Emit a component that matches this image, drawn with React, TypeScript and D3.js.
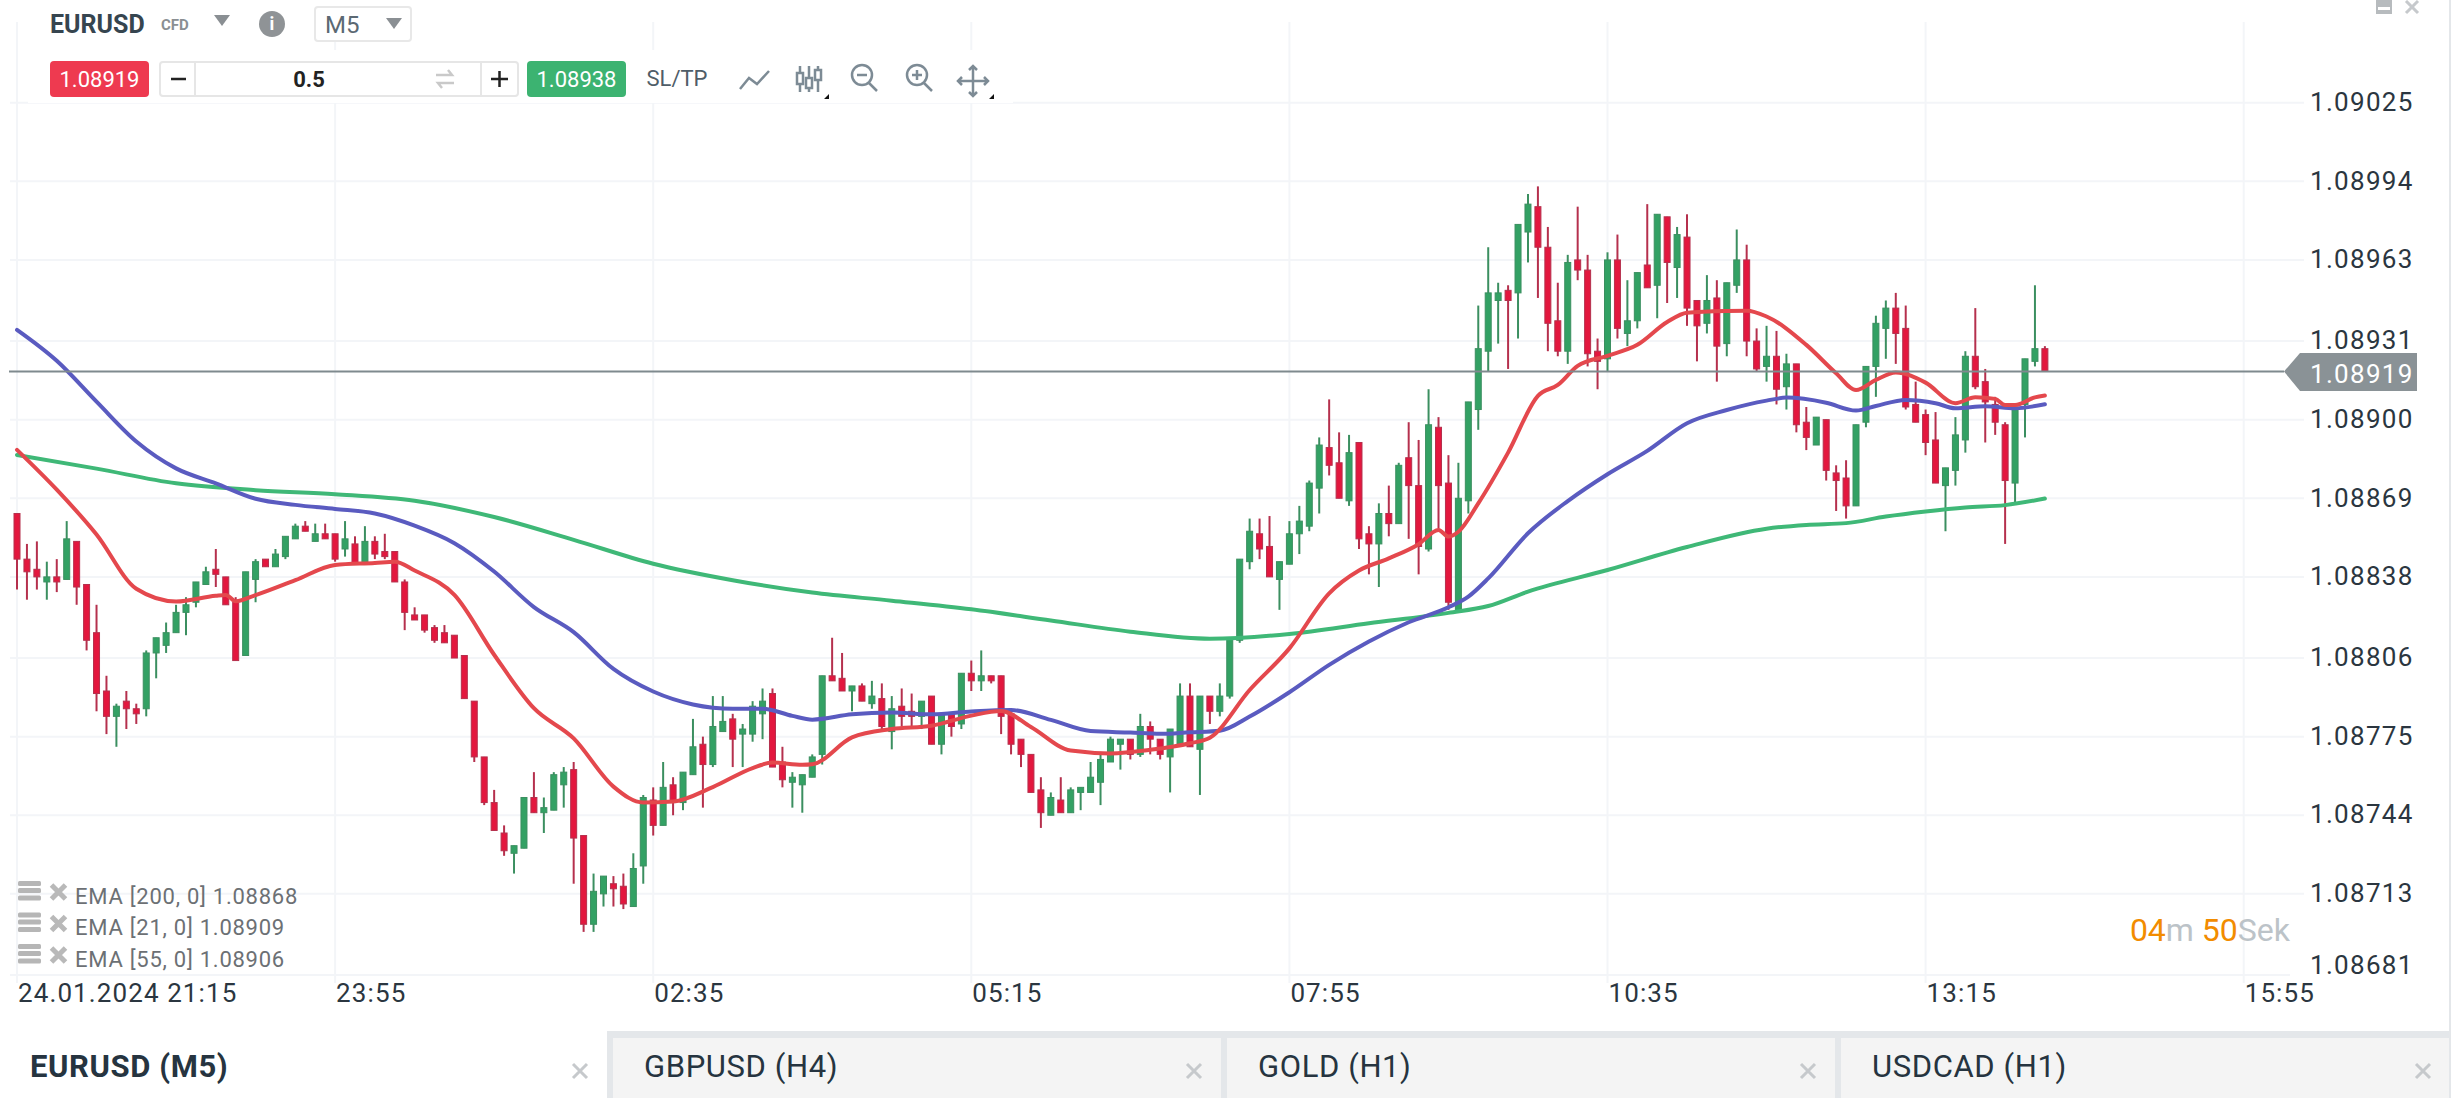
import React from "react";
import * as d3 from "d3";

const W = 2451, H = 1098;
const FONT = "Roboto, sans-serif";

// Prices are given as fifth-decimal units: 8919 means 1.08919.
const directions =
  "RRRGRGRRRRGRRGGGGGGGRRRGGRGGGRGRRGRGRRRRR" +
  "RRRRRRRRRGGRGGGRRGGRRGGRGRGGRGGRGGGRRGGG" +
  "GRRGRGRGRRGRGRGRGRRRRRRGRGGGGGGRGRRGGRGRG" +
  "GGGRRGGGGGRRGRRGRGRRGRRGG" +
  "GGGRGGRRRGRRRGRGGRGRGRRGRGGRRGRGRRG" +
  "RRRGGGGRRRRRGGGRRRRGGGR";

const highs = [
  8863,8851,8852,8844,8845,8860,8852,8835,8827,8799,8788,8793,8788,8809,8814,8820,8827,8830,8836,8842,8849,8838,8830,8840,8845,8845,8849,8854,8859,8860,8859,8859,8855,8860,8854,8858,8854,8855,8848,8837,8826,
  8823,8819,8819,8815,8807,8789,8767,8754,8740,8732,8751,8761,8751,8761,8763,8765,8736,8721,8720,8720,8721,8729,8752,8755,8765,8759,8761,8782,8775,8791,8791,8784,8780,8789,8794,8794,8771,8761,8760,8768,
  8799,8814,8808,8795,8796,8797,8796,8791,8794,8792,8789,8791,8784,8784,8800,8805,8809,8799,8799,8785,8774,8768,8759,8753,8759,8755,8755,8765,8769,8775,8774,8774,8784,8781,8774,8778,8796,8796,8791,8791,8796,
  8814,8845,8861,8861,8862,8844,8860,8866,8876,8893,8908,8895,8894,8891,8858,8867,8874,8883,8899,8892,8912,8901,8886,8883,8907,
  8945,8968,8954,8953,8977,8989,8992,8976,8954,8965,8984,8965,8932,8966,8973,8955,8958,8985,8981,8980,8976,8981,8947,8957,8955,8954,8975,8969,8936,8937,8935,8926,8922,8905,8901,
  8900,8882,8884,8898,8921,8941,8947,8950,8945,8915,8904,8903,8881,8901,8927,8944,8920,8909,8899,8904,8924,8953,8929,
];
const lows = [
  8833,8829,8833,8829,8832,8837,8827,8809,8785,8776,8771,8778,8780,8783,8798,8808,8816,8815,8826,8835,8834,8827,8805,8807,8828,8842,8842,8845,8853,8856,8852,8853,8844,8846,8843,8843,8845,8845,8836,8817,8821,
  8816,8812,8812,8806,8790,8765,8748,8738,8728,8721,8731,8745,8737,8746,8747,8717,8698,8698,8708,8708,8707,8708,8717,8736,8740,8744,8746,8760,8747,8763,8777,8763,8763,8773,8774,8763,8755,8747,8745,8759,
  8764,8797,8793,8785,8789,8786,8778,8770,8779,8779,8778,8772,8768,8775,8778,8793,8793,8796,8776,8768,8763,8753,8739,8744,8745,8745,8746,8753,8748,8765,8762,8766,8767,8768,8766,8753,8772,8771,8752,8780,8783,
  8790,8812,8841,8845,8838,8825,8843,8847,8856,8863,8878,8869,8866,8849,8839,8834,8854,8859,8853,8839,8848,8857,8825,8824,8863,
  8896,8919,8930,8920,8932,8962,8948,8927,8925,8922,8955,8921,8912,8919,8932,8929,8936,8952,8940,8946,8948,8937,8923,8934,8915,8925,8950,8925,8919,8915,8906,8904,8895,8888,8890,
  8876,8864,8861,8866,8897,8909,8924,8922,8904,8899,8886,8875,8856,8874,8887,8912,8891,8894,8851,8867,8893,8921,8919,
];
const bodyHighs = [
  8863,8845,8841,8838,8838,8853,8852,8835,8816,8793,8787,8789,8786,8808,8814,8816,8824,8827,8836,8840,8841,8838,8828,8840,8844,8845,8847,8854,8858,8858,8855,8855,8855,8853,8851,8852,8852,8848,8848,8836,8823,
  8823,8818,8816,8815,8807,8789,8767,8749,8737,8732,8751,8751,8747,8760,8761,8762,8736,8714,8720,8717,8716,8723,8751,8750,8755,8756,8761,8771,8772,8779,8781,8782,8778,8787,8789,8792,8765,8759,8760,8767,
  8799,8799,8798,8795,8795,8791,8790,8786,8787,8785,8789,8791,8784,8784,8800,8800,8799,8799,8799,8784,8774,8768,8754,8751,8750,8754,8755,8759,8766,8774,8774,8774,8779,8779,8774,8778,8791,8791,8791,8791,8791,
  8814,8845,8856,8855,8850,8844,8855,8860,8875,8890,8889,8883,8887,8891,8855,8863,8863,8882,8885,8874,8898,8897,8875,8869,8907,
  8928,8950,8950,8951,8977,8985,8984,8968,8939,8962,8963,8959,8927,8963,8963,8939,8958,8961,8981,8980,8973,8972,8947,8947,8948,8954,8963,8963,8931,8925,8925,8922,8922,8899,8901,
  8900,8879,8877,8898,8921,8938,8944,8944,8936,8906,8902,8892,8881,8894,8925,8925,8915,8906,8898,8904,8924,8928,8928,
];
const bodyLows = [
  8845,8840,8838,8836,8836,8837,8834,8813,8792,8783,8783,8786,8784,8786,8808,8811,8816,8824,8828,8835,8839,8827,8805,8807,8837,8842,8842,8846,8853,8856,8852,8853,8845,8849,8843,8843,8847,8846,8836,8824,8821,
  8817,8813,8812,8806,8790,8767,8749,8738,8730,8729,8731,8745,8745,8746,8756,8735,8701,8701,8713,8715,8709,8708,8724,8740,8740,8749,8749,8760,8764,8764,8777,8774,8776,8776,8784,8763,8758,8757,8756,8759,
  8768,8797,8793,8793,8789,8788,8779,8777,8783,8783,8783,8772,8772,8779,8780,8797,8797,8797,8783,8772,8768,8753,8745,8744,8745,8745,8753,8753,8757,8765,8772,8768,8768,8774,8768,8767,8772,8771,8770,8785,8785,
  8791,8813,8844,8849,8838,8837,8843,8855,8858,8873,8882,8869,8868,8853,8851,8851,8859,8859,8874,8850,8849,8874,8828,8824,8868,
  8904,8927,8947,8947,8950,8974,8968,8938,8927,8927,8959,8926,8923,8924,8936,8934,8939,8952,8953,8962,8960,8944,8937,8938,8929,8930,8953,8931,8920,8921,8912,8913,8898,8893,8890,
  8880,8876,8866,8866,8899,8921,8936,8934,8905,8899,8891,8875,8874,8880,8892,8913,8907,8899,8876,8875,8906,8923,8919,
];

// EMA values read at selected bars
const ema21Bars = [0,4,8,12,16,20,21,22,24,28,32,36,38,40,44,48,52,56,60,63,66,70,74,76,79,80,84,88,92,96,99,102,106,110,114,118,120,124,128,132,135,138,141,143,144,145,147,150,153,155,157,160,163,166,168,172,174,176,180,183,185,187,189,192,195,197,199,200,201,203,204];
const ema21Values = [8888.1,8872.4,8854.7,8833.3,8828.3,8830.6,8830.9,8828.4,8830.8,8836.7,8842.7,8843.5,8844,8840.5,8830.9,8807.3,8786.2,8774.3,8755.3,8749,8749.4,8755.1,8762.6,8764.8,8763.9,8764.1,8774.7,8778,8779.3,8783.3,8785.1,8778.8,8769.5,8768.4,8769.8,8772.4,8774.6,8793.4,8809.8,8831.5,8840.5,8845.3,8850.9,8856.5,8853.9,8855.8,8867,8887,8909.4,8913.7,8921.2,8925.2,8929.5,8938.5,8942.2,8942.9,8943,8940.7,8929.5,8918.3,8911.7,8915.7,8918.6,8914.6,8906.5,8908.8,8908.2,8905.8,8905.8,8908.8,8909.5];

const ema55Bars = [0,4,8,12,16,20,24,28,32,36,40,44,48,52,56,60,64,68,72,75,78,80,84,88,92,96,100,104,108,112,115,118,121,124,128,132,136,140,144,146,148,152,156,160,164,168,172,176,178,182,185,187,190,193,195,198,201,204];
const ema55Values = [8935.4,8923.2,8907.1,8891.4,8880.8,8874.9,8868.8,8866.4,8864.8,8863,8858.2,8851.3,8840.1,8826.1,8816.2,8801.7,8792.8,8787.7,8786,8786,8783.2,8781.7,8783.8,8784.5,8783.8,8784.9,8785.5,8781.6,8777.2,8776.6,8776.1,8776.7,8777.3,8782.9,8792.5,8803.3,8812.5,8820.1,8826,8830.2,8837.4,8855.2,8867.9,8878.5,8887.7,8898.6,8903.8,8907.5,8908.7,8906.7,8903.6,8905.4,8907.8,8906.5,8904.5,8905.3,8904.5,8906.1];

const ema200Bars = [0,8,16,24,32,40,48,56,64,72,80,88,96,104,112,120,128,136,144,148,152,160,168,176,180,184,188,192,196,200,204];
const ema200Values = [8886.1,8880.7,8874.9,8872.2,8870.6,8868,8861.6,8852.6,8843.2,8836.7,8831.8,8828.6,8825.2,8820.8,8816.4,8813.6,8815.5,8819.7,8823.8,8826.5,8832.2,8840.7,8849.8,8857,8858.5,8859.2,8861.8,8863.8,8865.4,8866.3,8868.9];

const priceTicks = [1.08681,1.08713,1.08744,1.08775,1.08806,1.08838,1.08869,1.089,1.08931,1.08963,1.08994,1.09025];
const timeTickBars = [0,32,64,96,128,160,192,224];
const timeTickLabels = ["24.01.2024 21:15","23:55","02:35","05:15","07:55","10:35","13:15","15:55"];
const lastBid = 1.08919;
const legendRows = ["EMA [200, 0] 1.08868","EMA [21, 0] 1.08909","EMA [55, 0] 1.08906"];
const tabLabels = ["EURUSD (M5)","GBPUSD (H4)","GOLD (H1)","USDCAD (H1)"];

const price = (v: number) => 1 + v / 100000;
const x = d3.scaleLinear().domain([0, 32]).range([17, 335.1]);
const y = d3.scaleLinear().domain([1.08681, 1.09025]).range([975, 102.7]);

const pathFor = (bars: number[], vals: number[]) =>
  d3.line<number>().x((_, i) => x(bars[i])).y((v) => y(price(v))).curve(d3.curveMonotoneX)(vals) as string;

const Label = (p: any) => {
  const { cy, size, children, ...rest } = p;
  return <text y={cy + size * 0.355} fontSize={size} fontFamily={FONT} {...rest}>{children}</text>;
};

const Cross = ({ cx, cy, r, w, c }: any) => (
  <path d={`M${cx - r} ${cy - r}L${cx + r} ${cy + r}M${cx + r} ${cy - r}L${cx - r} ${cy + r}`} stroke={c} strokeWidth={w} fill="none" />
);

const ICON = "#7d8b95";

export default function App() {
  const axisEnd = 2304;
  return (
    <div style={{ position: "absolute", left: 0, top: 0, width: W, height: H, background: "#fff" }}>
      <svg width={W} height={H} style={{ display: "block" }}>
        {/* grid */}
        <g stroke="#f3f5f8" strokeWidth={2}>
          {priceTicks.map((t) => (
            <line key={t} x1={10} x2={t === 1.08681 ? 2290 : axisEnd} y1={y(t)} y2={y(t)} />
          ))}
          {timeTickBars.map((b) => (
            <line key={b} x1={x(b)} x2={x(b)} y1={22} y2={983} />
          ))}
        </g>
        <rect x={28} y={50} width={985} height={53} fill="#fff" />

        {/* candles */}
        {highs.map((h, i) => {
          const up = directions[i] === "G";
          const wick = up ? "#3b8f60" : "#b5304d";
          const top = y(price(bodyHighs[i]));
          const bot = y(price(bodyLows[i]));
          return (
            <g key={i}>
              <line x1={x(i)} x2={x(i)} y1={y(price(h))} y2={y(price(lows[i]))} stroke={wick} strokeWidth={2} />
              <rect x={x(i) - 3} y={top} width={6} height={Math.max(bot - top, 2)}
                fill={up ? "#33a164" : "#e3173e"} stroke={up ? "#3b8f60" : "#b5304d"} strokeWidth={1} />
            </g>
          );
        })}

        {/* EMA lines */}
        <g fill="none" strokeWidth={4} strokeLinejoin="round" strokeLinecap="round">
          <path d={pathFor(ema200Bars, ema200Values)} stroke="#3fb877" />
          <path d={pathFor(ema55Bars, ema55Values)} stroke="#5a5bc0" />
          <path d={pathFor(ema21Bars, ema21Values)} stroke="#e4484d" />
        </g>

        {/* last price */}
        <line x1={9} x2={2284} y1={y(lastBid)} y2={y(lastBid)} stroke="#7f8a8e" strokeWidth={2} />
        <path d={`M2284 ${y(lastBid)}L2300 353H2417V391H2300Z`} fill="#8a9296" />

        {/* price axis */}
        {priceTicks.map((t) => (
          <Label key={t} x={2310} cy={Math.min(y(t) - 1, 965)} size={26} letterSpacing={1.3} fill="#2b3640">
            {t.toFixed(5)}
          </Label>
        ))}
        <Label x={2310} cy={374} size={26} letterSpacing={1.3} fill="#fff">{lastBid.toFixed(5)}</Label>

        {/* time axis */}
        {timeTickBars.map((b, i) => (
          <Label key={b} x={x(b) + 1} cy={993} size={26} letterSpacing={1.1} fill="#2b3640">{timeTickLabels[i]}</Label>
        ))}

        {/* legend */}
        {legendRows.map((t, i) => {
          const cy = 896 + i * 31.5;
          return (
            <g key={t}>
              {[-10, -3, 4.5].map((d) => (
                <rect key={d} x={18} y={cy - 4 + d - 1} width={23} height={5} rx={1.5} fill="#b6b6b6" />
              ))}
              <Cross cx={58.5} cy={cy - 4} r={7} w={5} c="#b9b9b9" />
              <Label x={75} cy={cy} size={22} letterSpacing={0.75} fill="#6c7074">{t}</Label>
            </g>
          );
        })}

        {/* countdown */}
        <text x={2290} y={941} textAnchor="end" fontSize={32} fontFamily={FONT}>
          <tspan fill="#f28c00">04</tspan><tspan fill="#bcc3c8">m </tspan>
          <tspan fill="#f28c00">50</tspan><tspan fill="#bcc3c8">Sek</tspan>
        </text>

        {/* header */}
        <Label x={50} cy={24} size={25} fontWeight={700} fill="#36454f">EURUSD</Label>
        <Label x={161} cy={25} size={15} fontWeight={700} fill="#8a8f93">CFD</Label>
        <path d="M214 15H230L222 26Z" fill="#8a8f93" />
        <circle cx={272} cy={24} r={13} fill="#8f9396" />
        <Label x={272} cy={24} size={18} fontWeight={700} textAnchor="middle" fill="#fff">i</Label>
        <rect x={315} y={7} width={96} height={34} rx={3} fill="#fff" stroke="#e8e8e8" strokeWidth={2} />
        <Label x={325} cy={24} size={24} fill="#5b6973">M5</Label>
        <path d="M386 18H402L394 29Z" fill="#8a8f93" />

        <rect x={50} y={61} width={99} height={36} rx={4} fill="#ee3a50" />
        <Label x={99.5} cy={79} size={22} textAnchor="middle" fill="#fff">1.08919</Label>
        <rect x={160} y={62} width={358} height={34} rx={3} fill="#fff" stroke="#e6e6e6" strokeWidth={2} />
        <line x1={195} x2={195} y1={62} y2={96} stroke="#e6e6e6" strokeWidth={2} />
        <line x1={481} x2={481} y1={62} y2={96} stroke="#e6e6e6" strokeWidth={2} />
        <path d="M171 79H186M491 79H508M499.5 71V87" stroke="#222" strokeWidth={2.5} fill="none" />
        <Label x={309} cy={79} size={22} fontWeight={700} textAnchor="middle" fill="#222">0.5</Label>
        <path d="M436 75H452L448 70M454 83H438L442 88" stroke="#c9c9c9" strokeWidth={2.5} fill="none" />
        <rect x={527} y={61} width={99} height={36} rx={4} fill="#3cb371" />
        <Label x={576.5} cy={79} size={22} textAnchor="middle" fill="#fff">1.08938</Label>
        <Label x={677} cy={78} size={22} textAnchor="middle" fill="#4f5d68">SL/TP</Label>

        <g stroke={ICON} strokeWidth={2.5} fill="none">
          <path d="M740 89L749 78L757 84L769 71" />
          <path d="M800 66V92M809 66V92M818 66V92" />
          <rect x={797} y={73} width={6} height={11} fill="#fff" />
          <rect x={806} y={78} width={6} height={10} fill="#fff" />
          <rect x={815} y={70} width={6} height={10} fill="#fff" />
          <circle cx={862} cy={75} r={10} />
          <path d="M869 83L877 91M857 75H867" />
          <circle cx={917} cy={75} r={10} />
          <path d="M924 83L932 91M912 75H922M917 70V80" />
          <path d="M958 81H988M973 66V96M962 77L958 81L962 85M984 77L988 81L984 85M969 70L973 66L977 70M969 92L973 96L977 92" />
        </g>
        <path d="M824 99H829V94ZM989 99H994V94Z" fill="#111" />

        {/* window controls */}
        <rect x={2376} y={0} width={16} height={14} fill="#b7bbbe" />
        <rect x={2378} y={7} width={12} height={3} fill="#fff" />
        <Cross cx={2412} cy={7} r={6} w={3} c="#c6c9cc" />

        {/* tabs */}
        <rect x={607} y={1031} width={W - 607} height={7} fill="#e4e7ea" />
        {[613, 1227, 1841].map((tx) => (
          <g key={tx}>
            <rect x={tx - 6} y={1031} width={6} height={H - 1031} fill="#e4e7ea" />
            <rect x={tx} y={1038} width={608} height={H - 1038} fill="#f4f4f4" />
          </g>
        ))}
        <rect x={2449} y={0} width={2} height={H} fill="#e4e7ea" />
        {tabLabels.map((t, i) => (
          <Label key={t} x={i === 0 ? 30 : 644 + (i - 1) * 614} cy={1066} size={31}
            fontWeight={i === 0 ? 700 : 400} letterSpacing={0.6} fill="#263440">{t}</Label>
        ))}
        {[580, 1194, 1808, 2423].map((cx) => (
          <Cross key={cx} cx={cx} cy={1071} r={7} w={3} c="#c6c9cc" />
        ))}
      </svg>
    </div>
  );
}
